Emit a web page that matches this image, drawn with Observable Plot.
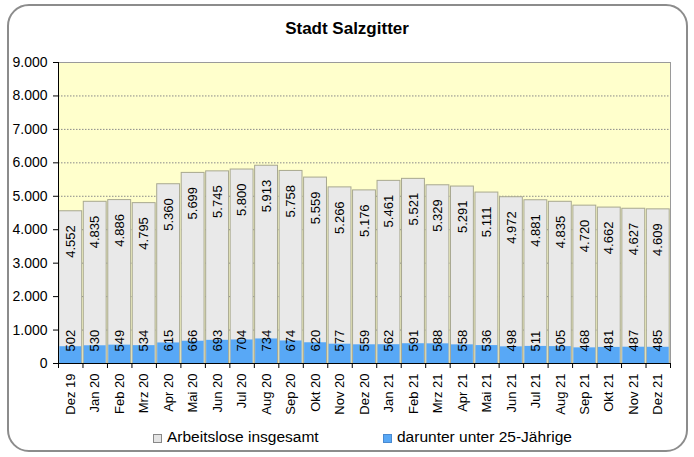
<!DOCTYPE html>
<html><head><meta charset="utf-8">
<script src="https://cdn.jsdelivr.net/npm/d3@7"></script>
<script src="https://cdn.jsdelivr.net/npm/@observablehq/plot@0.6"></script>
<style>
body{margin:0;background:#fff;font-family:"Liberation Sans",Arial,sans-serif;}
#wrap{position:relative;width:694px;height:457px;overflow:hidden;background:#fff;}
#frame{position:absolute;left:7px;top:4px;width:681px;height:448px;border:2px solid #8c8c8c;border-radius:22px;box-sizing:border-box;background:#fff;}
#title{position:absolute;left:0;width:694px;top:19px;text-align:center;font-weight:bold;font-size:17px;color:#000;}
#chart{position:absolute;left:0;top:0;}
.leg{position:absolute;top:428px;font-size:15.5px;color:#000;white-space:nowrap;line-height:18px;}
.sw{position:absolute;top:6px;width:7px;height:7px;border:1px solid #888;}
</style></head>
<body>
<div id="wrap">
  <div id="frame"></div>
  <div id="title">Stadt Salzgitter</div>
  <div id="chart"></div>
  <div class="leg" style="left:153px;"><span class="sw" style="left:0;background:#e4e4e4;"></span><span style="padding-left:14px;">Arbeitslose insgesamt</span></div>
  <div class="leg" style="left:383px;"><span class="sw" style="left:0;background:#58a8f6;border-color:#4a8ad0;"></span><span style="padding-left:14px;">darunter unter 25-Jährige</span></div>
</div>
<script>
const months = ["Dez 19","Jan 20","Feb 20","Mrz 20","Apr 20","Mai 20","Jun 20","Jul 20","Aug 20","Sep 20","Okt 20","Nov 20","Dez 20","Jan 21","Feb 21","Mrz 21","Apr 21","Mai 21","Jun 21","Jul 21","Aug 21","Sep 21","Okt 21","Nov 21","Dez 21"];
const total = [4552,4835,4886,4795,5360,5699,5745,5800,5913,5758,5559,5266,5176,5461,5521,5329,5291,5111,4972,4881,4835,4720,4662,4627,4609];
const youth = [502,530,549,534,615,666,693,704,734,674,620,577,559,562,591,588,558,536,498,511,505,468,481,487,485];
const yTicks = [0,1000,2000,3000,4000,5000,6000,7000,8000,9000];

const de = d => d3.format(",")(d).replace(/,/g, ".");
const data = months.map((m, i) => ({i, m, total: total[i], youth: youth[i]}));

const plot = Plot.plot({
  width: 694,
  height: 420,
  marginLeft: 58,
  marginRight: 24,
  marginTop: 62,
  marginBottom: 57,
  style: {fontFamily: "Liberation Sans, Arial, sans-serif", fontSize: "13px", background: "transparent", overflow: "visible", color: "#000"},
  x: {domain: [0, months.length], axis: null},
  y: {domain: [0, 9000], axis: null},
  marks: [
    Plot.frame({fill: "#ffffcc", stroke: "#9a9a9a"}),
    Plot.gridY(yTicks.slice(1, -1), {stroke: "#8a8a8a", strokeOpacity: 1, strokeDasharray: "1.5,1.5"}),
    Plot.rect(data, {x1: "i", x2: d => d.i + 1, y1: 0, y2: "total", fill: "#e9e9e9", stroke: "#a8a890", insetLeft: 0.8, insetRight: 0.8}),
    Plot.rect(data, {x1: "i", x2: d => d.i + 1, y1: 0, y2: "youth", fill: "#58a8f6", insetLeft: 1.3, insetRight: 1.3}),
    Plot.text(data, {x: d => d.i + 0.5, y: "total", text: d => de(d.total), rotate: -90, textAnchor: "end", dy: 14, fontSize: 13, fill: "#000"}),
    Plot.text(data, {x: d => d.i + 0.5, y: 0, text: d => de(d.youth), rotate: -90, textAnchor: "start", dy: -12, fontSize: 13, fill: "#000"}),
    Plot.ruleY([0], {stroke: "#000"}),
    Plot.ruleX([0], {stroke: "#000"}),
    Plot.axisY(yTicks, {tickSize: 5, tickPadding: 6, tickFormat: de, fontSize: 14, stroke: "#000", label: null}),
    Plot.axisX(d3.range(0, months.length + 1), {tickSize: 5, tickFormat: () => "", stroke: "#000", label: null}),
    Plot.axisX(d3.range(months.length).map(i => i + 0.5), {tickSize: 0, tickPadding: 10, tickRotate: -90, tickFormat: d => months[Math.floor(d)], fontSize: 13, label: null})
  ]
});
document.getElementById("chart").appendChild(plot);
</script>
</body></html>
